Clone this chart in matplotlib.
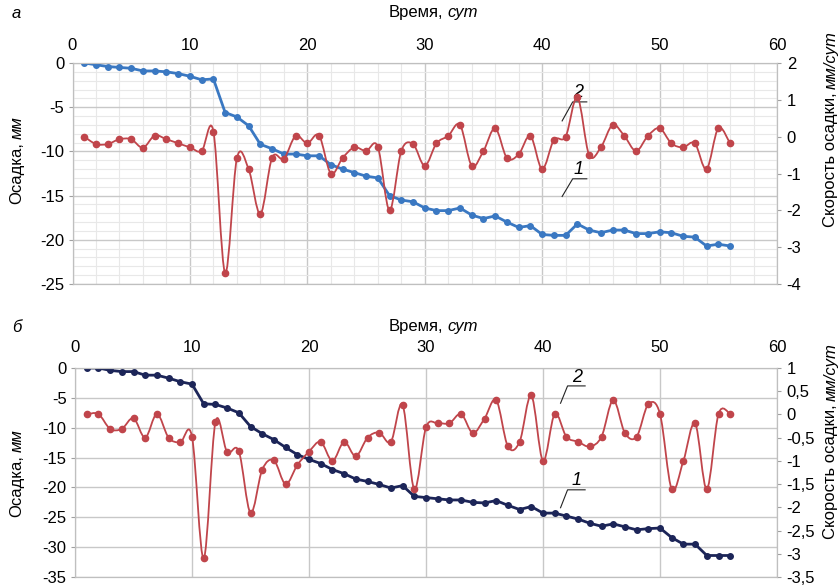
# settlement and settlement rate over time, two panels (а, б)
import numpy as np
import matplotlib.pyplot as plt
from matplotlib.path import Path
from matplotlib.patches import PathPatch
from matplotlib.ticker import MultipleLocator, FuncFormatter

plt.rcParams['font.family'] = ['Liberation Sans', 'DejaVu Sans']
plt.rcParams['axes.unicode_minus'] = False

# days
days = list(range(1, 57))

# panel а: settlement (mm) and settlement rate (mm/day)
settle_a = [0, -0.2, -0.4, -0.5, -0.6, -0.9, -0.9, -1.0, -1.2, -1.5,
            -1.9, -1.8, -5.6, -6.1, -7.1, -9.2, -9.7, -10.3, -10.3, -10.5,
            -10.5, -11.5, -12.0, -12.4, -12.8, -13.0, -15.0, -15.5, -15.7, -16.4,
            -16.7, -16.7, -16.4, -17.2, -17.6, -17.3, -18.0, -18.6, -18.4, -19.4,
            -19.5, -19.5, -18.2, -18.9, -19.2, -18.9, -18.9, -19.3, -19.3, -19.1,
            -19.2, -19.6, -19.7, -20.7, -20.5, -20.7]
rate_a = [0.0, -0.2, -0.2, -0.07, -0.07, -0.3, 0.03, -0.07, -0.18, -0.29,
          -0.39, 0.14, -3.7, -0.59, -0.88, -2.1, -0.57, -0.6, 0.02, -0.18,
          0.03, -1.0, -0.58, -0.29, -0.39, -0.27, -2.0, -0.39, -0.2, -0.79,
          -0.18, 0.02, 0.32, -0.79, -0.39, 0.23, -0.58, -0.48, 0.02, -0.88,
          -0.09, 0.0, 1.07, -0.5, -0.29, 0.32, 0.02, -0.39, 0.02, 0.23,
          -0.18, -0.29, -0.18, -0.88, 0.23, -0.18]

# panel б
settle_b = [0, 0, -0.4, -0.6, -0.6, -1.2, -1.2, -1.7, -2.3, -2.7,
            -6.0, -6.1, -6.7, -7.5, -9.8, -11.0, -12.0, -13.3, -14.5, -15.3,
            -16.0, -17.0, -17.7, -18.6, -19.0, -19.5, -20.1, -19.7, -21.5, -21.7,
            -21.9, -22.1, -22.1, -22.5, -22.6, -22.2, -23.0, -23.7, -23.2, -24.3,
            -24.3, -24.8, -25.3, -26.0, -26.5, -26.1, -26.6, -27.1, -26.9, -26.8,
            -28.4, -29.5, -29.5, -31.4, -31.4, -31.4]
rate_b = [0.0, 0.01, -0.31, -0.31, -0.08, -0.5, 0.01, -0.5, -0.6, -0.48,
          -3.1, -0.17, -0.81, -0.79, -2.12, -1.19, -0.99, -1.5, -1.09, -0.8,
          -0.59, -1.0, -0.59, -0.9, -0.5, -0.39, -0.59, 0.21, -1.61, -0.28,
          -0.19, -0.19, 0.01, -0.4, -0.09, 0.31, -0.69, -0.59, 0.41, -1.0,
          0.01, -0.48, -0.59, -0.69, -0.48, 0.31, -0.4, -0.48, 0.22, 0.01,
          -1.61, -1.0, -0.19, -1.61, 0.01, 0.01]

blue = '#3a78c2'
navy = '#1c2558'
red = '#c0454b'
grid_major = '#c8c8c8'
grid_minor = '#e8e8e8'
W, H = 839, 588


def smooth_line(ax, x, y, color, lw):
    # smoothed line through the points (like excel "smoothed line")
    p = np.column_stack([x, y]).astype(float)
    ext = np.vstack([p[0], p, p[-1]])
    verts = [p[0]]
    codes = [Path.MOVETO]
    for i in range(1, len(ext) - 2):
        c1 = ext[i] + (ext[i + 1] - ext[i - 1]) / 6
        c2 = ext[i + 1] - (ext[i + 2] - ext[i]) / 6
        verts += [c1, c2, ext[i + 1]]
        codes += [Path.CURVE4] * 3
    ax.add_patch(PathPatch(Path(verts, codes), fill=False, edgecolor=color,
                           lw=lw, transform=ax.transData, zorder=3))


def label_two(x, y_break, plain, ital, rot, size=12):
    # axis title with an italic unit part, positions in pixels
    if rot == 90:
        fig.text(x / W, 1 - y_break / H, plain, rotation=90, ha='center',
                 va='top', fontsize=size)
        fig.text(x / W, 1 - (y_break - 3) / H, ital, rotation=90, ha='center',
                 va='bottom', fontsize=size, fontstyle='italic')
    else:
        fig.text(x / W, 1 - y_break / H, plain, ha='right', va='center',
                 fontsize=size)
        fig.text((x + 4) / W, 1 - y_break / H, ital, ha='left', va='center',
                 fontsize=size, fontstyle='italic')


def setup(ax, ax2, ymin, ymax, rmin, rmax, minor, xpad):
    ax.set_xlim(0, 60)
    ax.set_ylim(ymin, ymax)
    ax2.set_ylim(rmin, rmax)
    ax.xaxis.tick_top()
    ax.xaxis.set_major_locator(MultipleLocator(10))
    ax.yaxis.set_major_locator(MultipleLocator(5))
    ax.grid(True, which='major', color=grid_major, lw=1.0)
    if minor:
        ax.xaxis.set_minor_locator(MultipleLocator(2))
        ax.yaxis.set_minor_locator(MultipleLocator(1))
        ax.grid(True, which='minor', color=grid_minor, lw=0.8)
    ax.set_axisbelow(True)
    ax.tick_params(axis='x', which='both', length=0, pad=xpad, labelsize=12)
    ax.tick_params(axis='y', which='major', length=3, pad=3, labelsize=12,
                   color='#a0a0a0')
    ax.tick_params(axis='y', which='minor', length=0)
    ax2.tick_params(axis='y', length=3, pad=4, labelsize=12, color='#a0a0a0')
    for a in (ax, ax2):
        for s in a.spines.values():
            s.set_color('#bfbfbf')


fig = plt.figure(figsize=(W / 100, H / 100), dpi=100)

# ---- panel а ----
ax_a = fig.add_axes([72.5 / W, 1 - 284 / H, (777 - 72.5) / W, (284 - 63) / H])
ax_a2 = ax_a.twinx()
setup(ax_a, ax_a2, -25, 0, -4, 2, True, 7)
ax_a2.yaxis.set_major_locator(MultipleLocator(1))

ax_a.plot(days, settle_a, color=blue, lw=2, marker='o', ms=4, zorder=3)
smooth_line(ax_a2, days, rate_a, red, 1.3)
ax_a2.plot(days, rate_a, ls='none', marker='o', ms=4.5, color=red, zorder=4)

# curve labels
ax_a.plot([41.7, 42.6, 43.8], [-6.55, -4.4, -4.4], color='#222222', lw=0.8)
ax_a.text(43.1, -3.3, '2', fontsize=13, fontstyle='italic', ha='center', va='center')
ax_a.plot([41.7, 42.6, 43.8], [-15.1, -13.1, -13.1], color='#222222', lw=0.8)
ax_a.text(43.1, -12.1, '1', fontsize=13, fontstyle='italic', ha='center', va='center')

fig.text(12 / W, 1 - 14 / H, 'а', fontsize=12, fontstyle='italic', va='center')
label_two(443, 13, 'Время,', 'сут', 0)
label_two(17, 142, 'Осадка,', 'мм', 90)
label_two(831, 92, 'Скорость осадки,', 'мм/сут', 90)

# ---- panel б ----
ax_b = fig.add_axes([75 / W, 1 - 577 / H, (777 - 75) / W, (577 - 368) / H])
ax_b2 = ax_b.twinx()
setup(ax_b, ax_b2, -35, 0, -3.5, 1, False, 9)
ax_b2.yaxis.set_major_locator(MultipleLocator(0.5))
ax_b2.yaxis.set_major_formatter(FuncFormatter(lambda v, p: ('%g' % v).replace('.', ',')))

ax_b.plot(days, settle_b, color=navy, lw=2, marker='o', ms=4, zorder=3)
smooth_line(ax_b2, days, rate_b, red, 1.3)
ax_b2.plot(days, rate_b, ls='none', marker='o', ms=4.5, color=red, zorder=4)

ax_b.plot([41.5, 42.1, 43.6], [-5.9, -3.0, -3.0], color='#222222', lw=0.8)
ax_b.text(42.9, -1.6, '2', fontsize=13, fontstyle='italic', ha='center', va='center')
ax_b.plot([41.5, 42.1, 43.6], [-23.4, -20.4, -20.4], color='#222222', lw=0.8)
ax_b.text(42.9, -18.9, '1', fontsize=13, fontstyle='italic', ha='center', va='center')

fig.text(12 / W, 1 - 327 / H, 'б', fontsize=12, fontstyle='italic', va='center')
label_two(443, 327, 'Время,', 'сут', 0)
label_two(17, 455, 'Осадка,', 'мм', 90)
label_two(831, 404, 'Скорость осадки,', 'мм/сут', 90)

plt.savefig('out.png', dpi=100)
